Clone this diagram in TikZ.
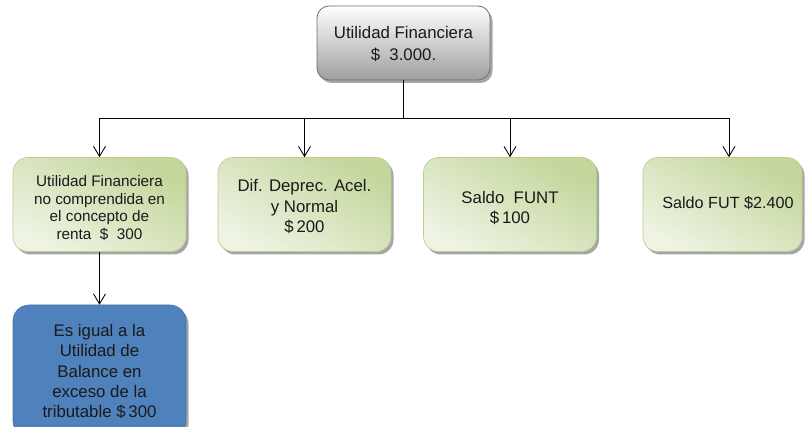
\documentclass[tikz,border=0pt]{standalone}
\usepackage{fontspec}
\setmainfont{Liberation Sans}
\usetikzlibrary{arrows.meta,shadows}
\definecolor{gdark}{HTML}{C3D69B}
\definecolor{glight}{HTML}{EEF3E3}
\definecolor{gedge}{HTML}{B9CD8F}
\definecolor{bluefill}{HTML}{4F81BD}
\definecolor{grayedge}{HTML}{6E6E6E}
\definecolor{txt}{HTML}{1A1A1A}
\newcommand\lowtext[2]{\raisebox{-#1}[\height][\depth]{\begin{tabular}{@{}c@{}}#2\end{tabular}}}
\tikzset{
  boxshadow/.style={drop shadow={shadow xshift=2.5pt,shadow yshift=-3pt,opacity=0.35,fill=black}},
  rootbox/.style={boxshadow, rounded corners=12pt, draw=grayedge, line width=0.8pt,
    top color=white, bottom color=black!38, minimum width=173pt, minimum height=74pt,
    inner sep=0pt, text=txt, font=\fontsize{16.8}{21.5}\selectfont},
  greenbox/.style={boxshadow, rounded corners=15pt, draw=gedge, line width=0.6pt,
    top color=gdark, bottom color=glight, shading angle=-30,
    minimum width=173pt, minimum height=94pt, inner sep=0pt, text=txt,
    font=\fontsize{16.8}{20.5}\selectfont},
  bluebox/.style={boxshadow, rounded corners=16pt, draw=bluefill!90!black, line width=0.6pt,
    fill=bluefill, minimum width=173pt, minimum height=132pt, inner sep=0pt,
    text=txt, font=\fontsize{16.8}{20.3}\selectfont},
  arr/.style={draw=black, line width=0.85pt, -{Straight Barb[length=10pt,width=12pt,line width=0.85pt]}},
  conn/.style={draw=black, line width=0.85pt}
}
\begin{document}
\begin{tikzpicture}[x=1pt,y=-1pt]
\useasboundingbox (0,0) rectangle (806,427);
\node[rootbox] (root) at (403.5,43) {\lowtext{2pt}{Utilidad Financiera\\\$\ \ 3.000.}};
\node[greenbox, font=\fontsize{15.3}{17.8}\selectfont] (b1) at (99.5,204.5) {\lowtext{5pt}{Utilidad Financiera\\no comprendida en\\el concepto de\\renta \ \$\ \ 300}};
\node[greenbox] (b2) at (304.5,204.5) {\lowtext{3.5pt}{Dif. Deprec. Acel.\\y Normal\\\$\,200}};
\node[greenbox] (b3) at (510,204.5) {\lowtext{5pt}{Saldo \ FUNT\\\$\,100}};
\node[greenbox, minimum width=159pt, font=\fontsize{16.2}{20}\selectfont] (b4) at (722.5,204.5) {\lowtext{0pt}{\hspace*{11pt}Saldo FUT \$2.400}};
\node[bluebox] (b5) at (99.5,371) {\lowtext{2pt}{Es igual a la\\Utilidad de\\Balance en\\exceso de la\\tributable \$\,300}};
\coordinate (bus) at (403.5,118);
\draw[conn] (root.south) -- (bus);
\draw[arr] (bus) -| (b1.north);
\draw[arr] (bus) -| (b2.north);
\draw[arr] (bus) -| (b3.north);
\draw[arr] (bus) -| ([xshift=6.5pt]b4.north);
\draw[arr] (b1.south) -- (b5.north);
\end{tikzpicture}
\end{document}
